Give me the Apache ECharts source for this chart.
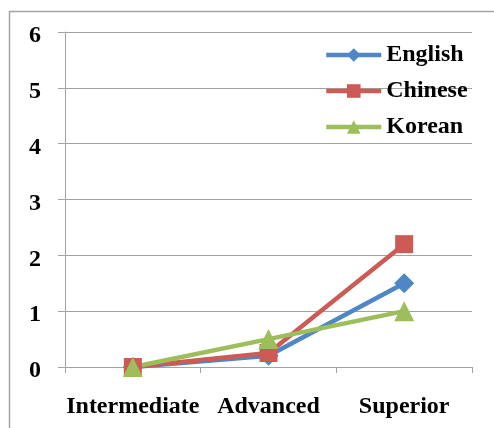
<!DOCTYPE html>
<html>
<head>
<meta charset="utf-8">
<script src="https://cdn.jsdelivr.net/npm/echarts@6/dist/echarts.min.js"></script>
<style>
  html, body { margin: 0; padding: 0; background: #fff; }
  #chart { width: 494px; height: 428px; }
</style>
</head>
<body>
<div id="chart"></div>
<script>
const levels = ['Intermediate', 'Advanced', 'Superior']
const english = [0, 0.2, 1.5]
const chinese = [0, 0.25, 2.2]
const korean = [0, 0.5, 1.0]

const font = 'Liberation Serif'
const grey = '#a3a3a3'

const mkLine = (name, data, color, symbol, size) => ({
  name,
  type: 'line',
  data,
  symbol,
  symbolSize: size,
  showAllSymbol: true,
  lineStyle: {color, width: 4.5},
  itemStyle: {color},
  emphasis: {disabled: true},
  animation: false
})

const myChart = echarts.init(document.getElementById('chart'))
myChart.setOption({
  animation: false,
  graphic: [{
    type: 'rect',
    shape: {x: 9.5, y: 11.5, width: 600, height: 600},
    style: {fill: 'none', stroke: grey, lineWidth: 1.5},
    silent: true
  }],
  grid: {left: 65, right: 22, top: 32, bottom: 61},
  legend: {
    left: 324,
    top: 43,
    padding: 0,
    orient: 'vertical',
    itemWidth: 55,
    itemHeight: 17,
    itemGap: 12,
    lineStyle: {width: 4.5},
    textStyle: {fontFamily: font, fontWeight: 'bold', fontSize: 24, color: '#000'},
    data: ['English', 'Chinese', 'Korean']
  },
  xAxis: {
    type: 'category',
    data: levels,
    boundaryGap: true,
    axisLine: {lineStyle: {color: grey, width: 1}},
    axisTick: {show: true, length: 6, lineStyle: {color: grey}},
    axisLabel: {interval: 0, fontFamily: font, fontWeight: 'bold', fontSize: 24, color: '#000', margin: 28},
    splitLine: {show: false}
  },
  yAxis: {
    type: 'value',
    min: 0,
    max: 6,
    interval: 1,
    axisLine: {show: true, lineStyle: {color: grey, width: 1}},
    axisTick: {show: true, length: 7, lineStyle: {color: grey}},
    axisLabel: {
      margin: 24,
      formatter: '{v|{value}}',
      rich: {
        v: {fontFamily: font, fontWeight: 'bold', fontSize: 24, color: '#000', lineHeight: 24, padding: [8, 0, 0, 0]}
      }
    },
    splitLine: {show: true, lineStyle: {color: grey, width: 1}}
  },
  series: [
    mkLine('English', english, '#4F86C6', 'diamond', 20),
    mkLine('Chinese', chinese, '#CC5A55', 'rect', 18),
    mkLine('Korean', korean, '#9DBE5A', 'triangle', 20)
  ]
})
</script>
</body>
</html>
